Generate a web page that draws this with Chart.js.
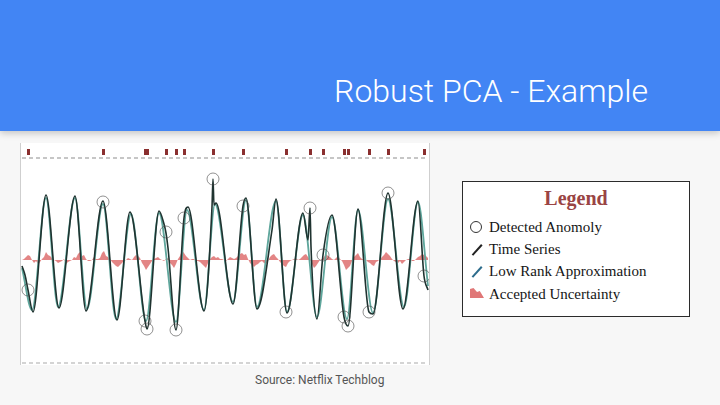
<!DOCTYPE html>
<html>
<head>
<meta charset="utf-8">
<script src="https://cdn.jsdelivr.net/npm/chart.js@4.4.1/dist/chart.umd.min.js"></script>
<style>
  html, body { margin:0; padding:0; }
  body { width:720px; height:405px; background:#f7f7f7; position:relative; overflow:hidden; font-family: Roboto, "Noto Sans", sans-serif; }
  #banner { position:absolute; left:0; top:0; width:720px; height:131px; background:#4285f4; box-shadow:0 2px 7px rgba(0,0,0,0.22); }
  #title { position:absolute; right:72px; top:73px; color:#fff; font-family:Roboto, sans-serif; font-weight:300; font-size:32px; line-height:36px; white-space:nowrap; }
  #frame { position:absolute; left:20px; top:143px; width:408px; height:222px; background:#fff; border-left:1.5px solid #cfcfcf; border-right:1.5px solid #cfcfcf; }
  #chartWrap { position:absolute; left:21px; top:143px; width:408px; height:222px; }
  #source { position:absolute; left:255px; top:373px; font-family:Roboto, sans-serif; font-size:12px; color:#555; white-space:nowrap; }
  #legend { position:absolute; left:462px; top:181px; width:228px; height:136px; box-sizing:border-box; border:1.5px solid #2b2b2b; background:#fff; font-family:"Liberation Serif", "DejaVu Serif", serif; }
  #legend .lt { position:absolute; left:0; width:100%; top:5px; text-align:center; font-weight:bold; font-size:20px; color:#9a4444; }
  #legend .it { position:absolute; left:26px; font-size:15px; color:#151515; white-space:nowrap; line-height:18px; }
  #legend .ic { position:absolute; left:7px; width:12px; height:12px; }
</style>
</head>
<body>
<div id="banner"></div>
<div id="title">Robust PCA - Example</div>
<div id="frame"></div>
<div id="chartWrap"><canvas id="c" width="408" height="222"></canvas></div>
<div id="source">Source: Netflix Techblog</div>
<div id="legend">
  <div class="lt">Legend</div>
  <div class="ic" style="top:39px;"><div style="width:10px;height:10px;border:1px solid #333;border-radius:50%;"></div></div>
  <div class="it" style="top:36px;">Detected Anomoly</div>
  <div class="ic" style="top:62px;"><div style="position:absolute;left:0px;top:5px;width:14px;height:1.6px;background:#222;transform:rotate(-48deg);"></div></div>
  <div class="it" style="top:58px;">Time Series</div>
  <div class="ic" style="top:84px;"><div style="position:absolute;left:0px;top:5px;width:14px;height:1.8px;background:#2d6c8c;transform:rotate(-48deg);"></div></div>
  <div class="it" style="top:80px;">Low Rank Approximation</div>
  <div class="ic" style="top:106px;"><div style="width:14px;height:10px;background:#e07777;clip-path:polygon(0 100%,0 10%,25% 0,50% 40%,70% 30%,100% 100%);"></div></div>
  <div class="it" style="top:103px;">Accepted Uncertainty</div>
</div>
<script>
// Low rank approximation: extrema of the smooth periodic signal (x = time step, y = value)
const lowRankX = [22, 32, 46, 58, 75, 87, 103, 116, 131, 146, 159, 176, 187, 204, 215, 233, 246, 257, 276, 287, 303, 317, 332, 347, 358, 373, 388, 404, 418, 428];
const lowRankY = [-6, -48, 64, -45, 64, -47, 58, -57, 48, -59, 49, -60, 52, -48, 58, -40, 62, -45, 61, -50, 47, -55, 45, -57, 52, -51, 63, -45, 60, -24];

// Raw time series (with anomalies)
const seriesX = [22, 25, 28, 33, 46, 59, 75, 86, 103, 117, 130, 145, 147, 159, 164, 166, 168, 176, 184, 188, 204, 212, 213, 214, 216, 233, 243, 246, 257, 272, 276, 287, 303, 308, 310, 311, 317, 323, 332, 344, 348, 358, 369, 373, 388, 403, 418, 424, 428];
const seriesY = [-4, -13, -28, -50, 67, -46, 66, -49, 61, -58, 50, -59, -67, 51, 38, 29, 14, -68, 44, 55, -49, 55, 83, 57, 59, -42, 56, 64, -47, 32, 63, -51, 49, 22, 54, 15, -57, 7, 47, -55, -64, 53, -50, -52, 69, -47, 61, -14, -28];

// Accepted uncertainty: deviation around its centre level, sampled every 2 time steps from t = 22
const bandStart = 22, bandStep = 2, bandBase = 2;
const bandY = [
  0,1, 3,5, 4,0, -3,-1, -4,-2, 1,3, 8,5, 4,2, 0,-1, -3,-2,
  -1,1, -4,-2, -1,0, 3,2, 6,8, 4,5, 1,-1, -1,0, 3,1, 1,2,
  7,9, 4,3, 1,-2, -4,-6, -7,-5, -3,-1, 0,2, 1,0, 3,5, 4,2,
  -3,-6, -10,-7, -4,-1, 1,2, 3,1, 0,-1, 1,2, -3,-5, -8,-4, 1,4,
  10,7, 4,2, 0,1, 1,-1, -1,-2, -4,-6, -8,-3, 1,3, 4,2, 3,1,
  1,0, -1,1, 3,2, 1,2, 4,6, 7,5, 6,1, -3,-5, -7,-5, -4,-2,
  -1,-3, -4,-1, 3,5, 6,3, 1,-2, -4,-6, -7,-3, -1,0, 1,2, 0,1,
  3,5, 6,3, 1,-4, -8,-6, -3,0, 1,3, 6,4, 3,1, 0,2, 4,1,
  -1,-5, -10,-8, -6,-1, 3,5, 7,3, 1,0, 0,-2, -3,-5, -6,-2, -1,1,
  3,5, 8,6, 4,1, -1,-2, -3,-1, -4,-2, 0,1, 1,-1, -1,1, 3,4,
  6,5, 4,2
];

// Detected anomalies
const anomalyX = [28, 103, 145, 147, 166, 176, 184, 213, 243, 286, 310, 323, 344, 348, 369, 388, 424];
const anomalyY = [-28, 60, -59, -67, 30, -68, 44, 83, 56, -50, 54, 7, -55, -64, -50, 69, -14];

// Anomaly ticks on the top strip and dashed guide levels
const markerLevel = 110;
const guideTop = 104, guideBottom = -101;

const pts = (xs, ys) => xs.map((x, i) => ({x, y: ys[i]}));
const bandPts = bandY.map((v, i) => ({x: bandStart + i * bandStep, y: bandBase + v}));

const tick = document.createElement('canvas');
tick.width = 3; tick.height = 6;
const tc = tick.getContext('2d'); tc.fillStyle = '#8a2f2f'; tc.fillRect(0, 0, 3, 6);

new Chart(document.getElementById('c'), {
  type: 'line',
  data: {
    datasets: [
      { label: 'Detected Anomoly', type: 'scatter', data: pts(anomalyX, anomalyY), pointRadius: 6, pointStyle: 'circle', pointBackgroundColor: 'rgba(0,0,0,0)', pointBorderColor: 'rgba(70,70,70,0.75)', pointBorderWidth: 0.8, order: 0 },
      { label: 'ticks', type: 'scatter', data: anomalyX.map(x => ({x, y: markerLevel})), pointStyle: tick, order: 0 },
      { label: 'Time Series', data: pts(seriesX, seriesY), borderColor: '#1f3330', borderWidth: 1.6, pointRadius: 0, cubicInterpolationMode: 'monotone', fill: false, order: 2 },
      { label: 'Low Rank Approximation', data: pts(lowRankX, lowRankY), borderColor: '#5fa69c', borderWidth: 1.8, pointRadius: 0, cubicInterpolationMode: 'monotone', fill: false, order: 3 },
      { label: 'Accepted Uncertainty', data: bandPts, borderWidth: 0, borderColor: 'rgba(0,0,0,0)', backgroundColor: 'rgba(222,112,112,0.85)', pointRadius: 0, fill: {value: bandBase}, tension: 0, order: 4 },
      { label: 'top', data: [{x: 22, y: guideTop}, {x: 428, y: guideTop}], borderColor: '#c6c6c6', borderWidth: 2, borderDash: [4, 3], pointRadius: 0, order: 5 },
      { label: 'bottom', data: [{x: 22, y: guideBottom}, {x: 428, y: guideBottom}], borderColor: '#c6c6c6', borderWidth: 1.5, borderDash: [4, 3], pointRadius: 0, order: 5 }
    ]
  },
  options: {
    responsive: false, animation: false, events: [],
    layout: { padding: 0, autoPadding: false },
    scales: {
      x: { type: 'linear', display: false, min: 21, max: 429 },
      y: { type: 'linear', display: false, min: -103, max: 119 }
    },
    plugins: { legend: { display: false }, tooltip: { enabled: false } }
  }
});
</script>
</body>
</html>
